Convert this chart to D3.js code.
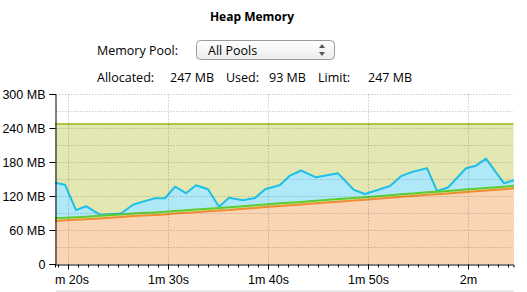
<!DOCTYPE html>
<html>
<head>
<meta charset="utf-8">
<script src="https://cdn.jsdelivr.net/npm/d3@7"></script>
<style>
  body { margin: 0; background: #fff; }
  svg { display: block; font-family: "Lucida Grande", "Open Sans", sans-serif; }
</style>
</head>
<body>
<div class="heap"></div>
<script>
// sample times in seconds since start
var times = [78.7, 79.7, 80.8, 81.8, 83.2, 85.3, 86.5, 87.5, 88.7, 89.7,
             90.7, 91.8, 92.8, 94.0, 95.1, 96.1, 97.5, 98.7, 99.7, 101.2,
             102.2, 103.3, 104.8, 107.0, 108.6, 109.7, 112.2, 113.3, 114.5, 115.9,
             116.9, 118.0, 119.8, 120.8, 121.8, 123.6, 124.6];
// MB
var used = [143.5, 140, 95, 102, 87, 89, 104.6, 110, 116, 116,
            136.4, 125, 139, 132, 101, 117, 112.4, 116.5, 132, 139.4,
            156, 165, 153, 160, 130.6, 123.5, 137.6, 155, 163, 169,
            129, 135, 169, 173.5, 186, 142.4, 148];
var poolB = [81, 81.5, 82.5, 83.5, 85, 87.5, 89, 90, 91, 92,
             93.5, 95, 96, 97.5, 99, 100, 102, 103.5, 105, 107,
             108, 109.5, 111.5, 114.5, 116.5, 118, 121.5, 123, 124.5, 126.5,
             127.5, 129, 131.5, 133, 134, 136.5, 138];
var poolA = [76, 77, 78, 79, 80.5, 83, 84.5, 85.5, 86.5, 87.5,
             89, 90.5, 91.5, 93, 94.5, 95.5, 97.5, 99, 100.5, 102.5,
             103.5, 105, 107, 110, 112, 113.5, 117, 118.5, 120, 122,
             123, 124.5, 127, 128.5, 129.5, 132, 133.5];
var limit = 247;
var stats = [["Allocated:", 97], ["247 MB", 170], ["Used:", 226], ["93 MB", 269], ["Limit:", 318], ["247 MB", 368]];
var yTicks = [0, 60, 120, 180, 240, 300];

var rows = times.map(function(t, i) {
  return {t: t, used: used[i], b: poolB[i], a: poolA[i]};
});

var svg = d3.select(".heap").append("svg")
    .attr("width", 527)
    .attr("height", 292);

var defs = svg.append("defs");

defs.append("clipPath")
    .attr("id", "plot-clip")
  .append("rect")
    .attr("x", 55)
    .attr("y", 80)
    .attr("width", 459)
    .attr("height", 220);

// axis group is translated down, so its clip lives in local coords
defs.append("clipPath")
    .attr("id", "axis-clip")
  .append("rect")
    .attr("x", 55)
    .attr("y", -2)
    .attr("width", 459)
    .attr("height", 30);

var grad = defs.append("linearGradient")
    .attr("id", "btn")
    .attr("x1", 0).attr("x2", 0).attr("y1", 0).attr("y2", 1);
grad.append("stop").attr("offset", "0%").attr("stop-color", "#ffffff");
grad.append("stop").attr("offset", "100%").attr("stop-color", "#ececec");

// header
svg.append("text")
    .attr("x", 252)
    .attr("y", 21)
    .attr("text-anchor", "middle")
    .style("font-weight", "bold")
    .style("font-size", "12px")
    .text("Heap Memory");

svg.append("text")
    .attr("x", 97)
    .attr("y", 55)
    .style("font-size", "12.5px")
    .text("Memory Pool:");

svg.append("rect")
    .attr("x", 196.5)
    .attr("y", 40.5)
    .attr("width", 138)
    .attr("height", 19)
    .attr("rx", 4)
    .style("fill", "url(#btn)")
    .style("stroke", "#9a9a9a");

svg.append("text")
    .attr("x", 208)
    .attr("y", 55)
    .style("font-size", "12.5px")
    .text("All Pools");

svg.append("path")
    .attr("d", "M319,48 L322,44 L325,48 Z M319,52 L322,56 L325,52 Z")
    .style("fill", "#555");

svg.selectAll(".stat")
    .data(stats)
  .enter().append("text")
    .attr("class", "stat")
    .attr("x", function(d) { return d[1]; })
    .attr("y", 82)
    .style("font-size", "12.5px")
    .text(function(d) { return d[0]; });

// chart
var x = d3.scaleLinear()
    .domain([78.7, 124.55])
    .range([55, 513.5]);

var y = d3.scaleLinear()
    .domain([0, 300])
    .range([264, 94]);

var plot = svg.append("g")
    .attr("clip-path", "url(#plot-clip)");

plot.append("rect")
    .attr("x", x.range()[0])
    .attr("width", x.range()[1] - x.range()[0])
    .attr("y", y(limit))
    .attr("height", y(0) - y(limit))
    .style("fill", "#e3e8b2");

plot.append("line")
    .attr("x1", x.range()[0])
    .attr("x2", x.range()[1])
    .attr("y1", y(limit))
    .attr("y2", y(limit))
    .style("stroke", "#adc641")
    .style("stroke-width", 2);

function layer(key, fill, stroke) {
  plot.append("path")
      .datum(rows)
      .attr("d", d3.area()
          .x(function(d) { return x(d.t); })
          .y0(y(0))
          .y1(function(d) { return y(d[key]); }))
      .style("fill", fill);
  plot.append("path")
      .datum(rows)
      .attr("d", d3.line()
          .x(function(d) { return x(d.t); })
          .y(function(d) { return y(d[key]); }))
      .style("fill", "none")
      .style("stroke", stroke)
      .style("stroke-width", 2)
      .style("stroke-linejoin", "round");
}

layer("used", "#afe8f8", "#20bfe7");
layer("b", "#cdeaa8", "#5ecb2e");
layer("a", "#fad5b4", "#f08c31");

// grid
var grid = svg.append("g")
    .style("stroke", "rgba(90,90,90,0.3)")
    .style("stroke-dasharray", "1.5,1.5");

grid.selectAll(".hg")
    .data(d3.range(30, 301, 30))
  .enter().append("line")
    .attr("x1", x.range()[0] + 1)
    .attr("x2", x.range()[1] - 1)
    .attr("y1", function(d) { return Math.round(y(d)) + 0.5; })
    .attr("y2", function(d) { return Math.round(y(d)) + 0.5; });

grid.selectAll(".vg")
    .data(d3.range(80, 125, 10))
  .enter().append("line")
    .attr("x1", function(d) { return Math.round(x(d)) + 0.5; })
    .attr("x2", function(d) { return Math.round(x(d)) + 0.5; })
    .attr("y1", y(300))
    .attr("y2", y(0));

// axes
function fmt(s) {
  var m = Math.floor(s / 60), r = Math.round(s % 60);
  return r ? m + "m " + r + "s" : m + "m";
}

var yAxis = svg.append("g")
    .attr("transform", "translate(55.5,0)")
    .call(d3.axisLeft(y).tickValues(d3.range(0, 301, 30)).tickSize(3).tickFormat(""));
yAxis.call(d3.axisLeft(y).tickValues(yTicks).tickSize(6).tickPadding(4)
    .tickFormat(function(d) { return d ? d + " MB" : "0"; }));
yAxis.selectAll("text").style("font-size", "12.5px").style("font-family", null);

var xg = svg.append("g")
    .attr("transform", "translate(0,264.5)");
xg.call(d3.axisBottom(x).tickValues(d3.range(79, 125, 1)).tickSize(3).tickFormat(""));

var xMajor = svg.append("g")
    .attr("transform", "translate(0,264.5)")
    .attr("clip-path", "url(#axis-clip)")
    .call(d3.axisBottom(x).tickValues(d3.range(80, 125, 10)).tickSize(5).tickPadding(4).tickFormat(fmt));
xMajor.select(".domain").remove();
xMajor.selectAll("text").style("font-size", "12.5px").style("font-family", null).attr("dy", "0.85em");

svg.selectAll(".domain, .tick line").style("stroke", "#000");

svg.append("rect")
    .attr("x", 56)
    .attr("y", 290)
    .attr("width", 458)
    .attr("height", 2)
    .style("fill", "#e8e8e8");
</script>
</body>
</html>
